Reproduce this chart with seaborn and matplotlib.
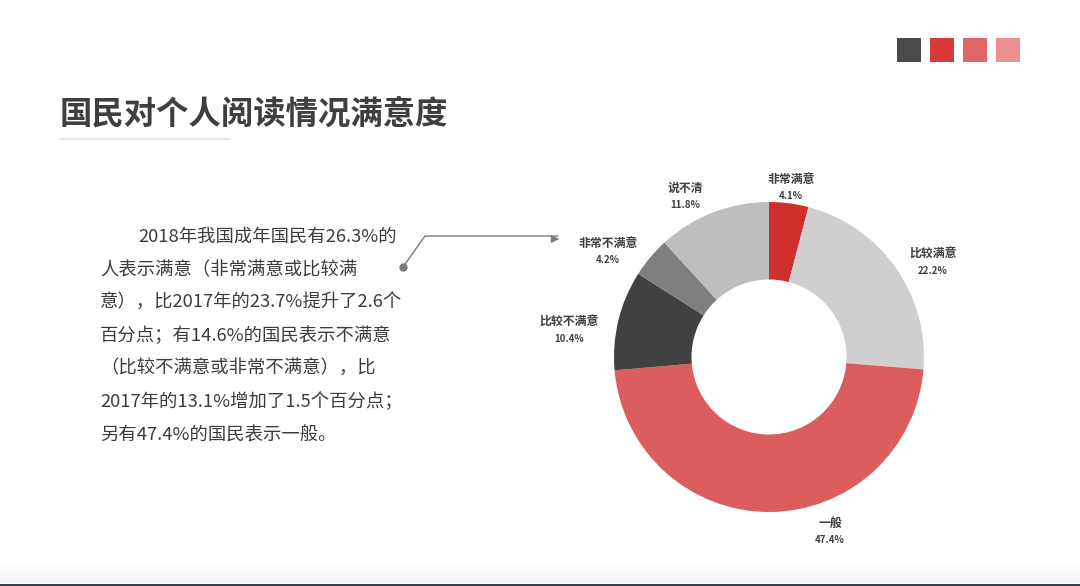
import numpy as np
import pandas as pd
import seaborn as sns
import matplotlib.pyplot as plt
from matplotlib.patches import Rectangle

# data
categories = ['非常满意', '比较满意', '一般', '比较不满意', '非常不满意', '说不清']
shares = [4.1, 22.2, 47.4, 10.4, 4.2, 11.8]
pct_labels = ['4.1%', '22.2%', '47.4%', '10.4%', '4.2%', '11.8%']
slice_colors = ['#D0302C', '#D0CECF', '#DB5D5D', '#414141', '#7F7F7F', '#BEBEBE']

title = '国民对个人阅读情况满意度'
paragraph = ['2018年我国成年国民有26.3%的',
             '人表示满意（非常满意或比较满',
             '意），比2017年的23.7%提升了2.6个',
             '百分点；有14.6%的国民表示不满意',
             '（比较不满意或非常不满意），比',
             '2017年的13.1%增加了1.5个百分点；',
             '另有47.4%的国民表示一般。']

df = pd.DataFrame({'category': categories, 'share': shares, 'pct': pct_labels})

sns.set_theme(style='white')
plt.rcParams['font.family'] = ['Noto Sans CJK SC', 'DejaVu Sans']

W, H = 1080, 586
fig = plt.figure(figsize=(W / 100, H / 100), dpi=100)
fig.patch.set_facecolor('white')

# full-figure overlay in pixel coordinates
bg = fig.add_axes([0, 0, 1, 1])
bg.axis('off')

# decorative squares top right
sq_colors = ['#4A4A4A', '#D63A3A', '#E06666', '#EA8E8E']
for i, c in enumerate(sq_colors):
    bg.add_patch(Rectangle((897 + i * 33, 38), 24, 24, color=c, lw=0))

# title and underline
bg.text(60, 114, title, fontsize=23.3, fontweight='bold', color='#3F3F3F',
        va='center', ha='left')
bg.plot([60, 230], [139, 139], color='#E0E0E0', lw=1.2)

# paragraph (first line indented)
for i, line in enumerate(paragraph):
    x0 = 138 if i == 0 else 100
    bg.text(x0, 237 + i * 33, line, fontsize=13.2, color='#3C3C3C',
            va='center', ha='left')

# pointer line
bg.plot([403, 425, 558], [267, 236, 236], color='#7A7A7A', lw=1)
bg.plot([403], [267], 'o', color='#7A7A7A', ms=5)
bg.annotate('', xy=(562, 239), xytext=(552, 239),
            arrowprops=dict(arrowstyle='-|>', color='#7A7A7A', lw=0.8))

# bottom strip: faint shadow and thin dark edge
grad = np.linspace(0, 1, 20).reshape(-1, 1)
bg.imshow(grad, extent=(0, W, 583, 566), cmap='Greys', vmin=-0.2, vmax=12,
          aspect='auto', zorder=0)
bg.add_patch(Rectangle((0, 583.5), W, 3, color='#3A3F4B', lw=0))
bg.set_xlim(0, W)
bg.set_ylim(H, 0)

# donut
cx, cy, r = 769, 357, 155
ax = fig.add_axes([(cx - r) / W, (H - cy - r) / H, 2 * r / W, 2 * r / H])
ax.pie(df['share'], colors=slice_colors, startangle=90, counterclock=False,
       radius=1, wedgeprops=dict(width=0.5, linewidth=0))
ax.set_xlim(-1, 1)
ax.set_ylim(-1, 1)
ax.set_aspect('equal')
ax.axis('off')

# label anchors (pie-axes units), placed as in the reference
label_pos = [(0.142, 1.148), (1.058, 0.665), (0.394, -1.071),
             (-1.290, 0.226), (-1.039, 0.735), (-0.542, 1.090)]
for (x, y), name, pct in zip(label_pos, df['category'], df['pct']):
    ax.text(x, y, name, fontsize=8.6, fontweight='bold', color='#404040',
            ha='center', va='center', clip_on=False)
    ax.text(x, y - 0.11, pct, fontsize=7, fontweight='bold', color='#404040',
            ha='center', va='center', clip_on=False)

fig.savefig('out.png', dpi=100)
